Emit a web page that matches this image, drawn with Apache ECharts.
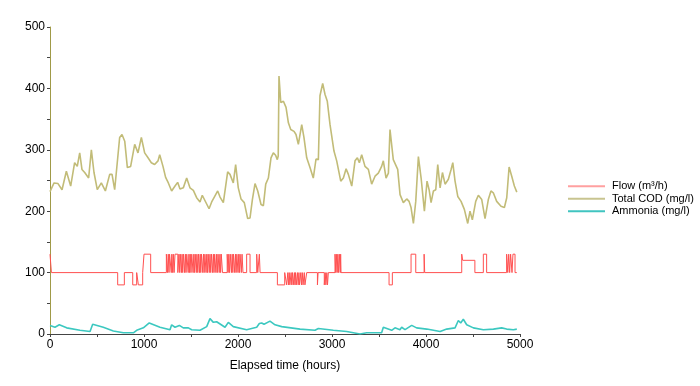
<!DOCTYPE html>
<html>
<head>
<meta charset="utf-8">
<script src="https://cdn.jsdelivr.net/npm/echarts@6/dist/echarts.min.js"></script>
<style>html,body{margin:0;padding:0;background:#fff}#c{width:700px;height:386px}</style>
</head>
<body>
<div id="c"></div>
<script>
// Total COD (mg/l): [elapsed hours, value]
var codData = [[0,232],[43,246],[85,245],[128,235],[174,265],[220,241],[262,279],[290,273],[316,295],[340,268],[369,263],[411,254],[440,300],[468,263],[503,235],[546,246],[589,233],[635,260],[660,260],[688,235],[706,235],[741,320],[766,325],[795,314],[823,271],[858,273],[901,309],[936,295],[972,320],[1007,295],[1043,287],[1078,279],[1113,276],[1149,282],[1167,292],[1202,273],[1230,255],[1259,246],[1294,233],[1330,241],[1358,247],[1383,236],[1418,238],[1454,254],[1489,238],[1525,234],[1560,222],[1596,215],[1620,226],[1656,215],[1692,204],[1720,215],[1748,223],[1784,233],[1809,223],[1844,214],[1890,264],[1915,260],[1950,246],[1975,276],[2003,238],[2032,220],[2067,214],[2103,188],[2128,189],[2153,219],[2181,245],[2210,233],[2245,211],[2270,209],[2295,244],[2323,254],[2351,287],[2376,295],[2400,291],[2418,284],[2428,290],[2436,420],[2455,377],[2483,379],[2511,369],[2536,344],[2561,333],[2596,330],[2617,325],[2642,309],[2678,341],[2702,320],[2731,287],[2766,271],[2801,254],[2830,285],[2855,284],[2872,388],[2901,408],[2926,390],[2950,379],[2979,341],[2997,339],[3021,298],[3050,282],[3093,249],[3121,254],[3150,269],[3174,260],[3192,262],[3210,241],[3245,282],[3270,287],[3291,279],[3316,292],[3351,273],[3387,268],[3422,244],[3458,257],[3493,262],[3528,273],[3546,282],[3575,254],[3600,262],[3617,333],[3652,284],[3670,284],[3699,268],[3724,227],[3759,214],[3795,220],[3820,216],[3841,206],[3866,180],[3891,216],[3919,289],[3948,254],[3983,200],[4011,249],[4033,235],[4054,214],[4079,233],[4104,235],[4125,276],[4150,238],[4175,263],[4203,244],[4238,252],[4267,268],[4285,279],[4309,249],[4338,224],[4373,216],[4408,203],[4444,180],[4468,200],[4493,186],[4529,216],[4557,226],[4593,219],[4628,188],[4663,219],[4691,233],[4716,230],[4752,216],[4798,208],[4834,206],[4859,222],[4884,272],[4912,257],[4940,241],[4966,231]];

// Ammonia (mg/l): [elapsed hours, value]
var ammoniaData = [[0,14],[53,11],[99,15],[177,10],[319,6],[426,4],[454,16],[567,11],[674,5],[780,2],[887,2],[922,6],[993,10],[1010,8],[1056,18],[1170,11],[1277,7],[1294,15],[1330,11],[1376,14],[1418,10],[1472,10],[1507,7],[1596,6],[1667,12],[1702,25],[1738,19],[1773,20],[1862,11],[1897,19],[1950,12],[2092,7],[2199,11],[2227,17],[2252,18],[2277,16],[2298,19],[2340,21],[2394,15],[2465,12],[2660,8],[2819,6],[2855,9],[3014,6],[3156,4],[3227,2],[3298,0],[3369,2],[3475,2],[3528,2],[3546,11],[3635,6],[3670,10],[3723,7],[3741,11],[3777,7],[3848,14],[3900,10],[4008,8],[4079,6],[4150,4],[4220,8],[4309,10],[4344,22],[4369,18],[4397,24],[4433,15],[4504,10],[4610,7],[4717,8],[4805,10],[4858,8],[4929,7],[4966,8]];

// Flow (m3/h): step change points [elapsed hours, new value]
var flowSteps = [[0,130],[15,100],[720,80],[791,100],[880,80],[922,100],[940,80],[986,100],[1000,130],[1071,100],
[1238,130],[1250,100],[1258,130],[1266,100],[1272,130],[1290,100],[1296,130],[1305,100],[1312,130],[1320,100],[1330,130],[1360,100],
[1372,130],[1380,100],[1386,130],[1398,100],[1405,130],[1412,100],[1420,130],[1432,100],[1440,130],[1447,100],[1455,130],[1470,100],
[1478,130],[1485,100],[1492,130],[1500,100],[1508,130],[1522,100],[1530,130],[1536,100],[1545,130],[1556,100],[1563,130],[1572,100],
[1580,130],[1590,100],[1598,130],[1604,100],[1612,130],[1625,100],[1633,130],[1640,100],[1648,130],[1660,100],[1668,130],[1675,100],
[1683,130],[1694,100],[1702,130],[1710,100],[1718,130],[1730,100],[1738,130],[1745,100],[1752,130],[1765,100],[1773,130],[1780,100],
[1788,130],[1800,100],[1808,130],[1815,100],[1822,130],[1835,100],[1885,130],[1895,100],[1902,130],[1910,100],[1918,130],[1930,100],
[1938,130],[1945,100],[1952,130],[1965,100],[1973,130],[1980,100],[1988,130],[2000,100],[2008,130],[2015,100],[2022,130],[2035,100],
[2043,130],[2053,100],[2092,130],[2128,100],[2199,130],[2210,100],[2227,130],[2235,100],
[2419,80],[2497,100],[2518,80],[2530,100],[2538,80],[2545,100],[2552,80],[2565,100],[2572,80],[2580,100],[2588,80],[2600,100],
[2606,80],[2612,100],[2620,80],[2632,100],[2640,80],[2648,100],[2655,80],[2668,100],[2676,80],[2684,100],[2692,80],[2705,100],
[2712,80],[2731,100],[2845,80],[2852,100],[2918,80],[2928,100],[2935,80],[2945,100],[2952,80],[2961,100],
[3032,130],[3040,100],[3046,130],[3055,100],[3062,130],[3070,100],[3078,130],[3088,100],[3092,130],[3096,100],
[3607,80],[3642,100],[3841,130],[3891,100],[3980,130],[3986,100],[4380,130],[4390,120],[4520,100],[4610,130],[4645,100],
[4858,130],[4870,100],[4880,130],[4890,100],[4900,130],[4915,100],[4925,130],[4947,100],[4966,100]];

var xTicks = [0,1000,2000,3000,4000,5000];
var yTicks = [0,100,200,300,400,500];

var chart = echarts.init(document.getElementById('c'), null, {renderer:'canvas'});
var font = 'Liberation Sans, Arial, sans-serif';
chart.setOption({
  animation:false,
  backgroundColor:'#fff',
  textStyle:{fontFamily:font},
  grid:{left:50,right:180,top:27,bottom:52,containLabel:false},
  legend:{
    orient:'vertical', left:563, top:175, itemWidth:37, itemHeight:2, itemGap:0,
    icon:'rect',
    textStyle:{fontFamily:font,fontSize:11,color:'#000',padding:[0,0,0,2],lineHeight:12.5},
    data:['Flow (m³/h)','Total COD (mg/l)','Ammonia (mg/l)']
  },
  xAxis:{
    type:'value', min:0, max:5000, interval:500,
    name:'Elapsed time (hours)', nameLocation:'middle', nameGap:26,
    nameTextStyle:{fontFamily:font,fontSize:12,color:'#000'},
    axisLine:{lineStyle:{color:'#444',width:1}},
    axisTick:{show:true,length:3,lineStyle:{color:'#444'}},
    axisLabel:{color:'#000',fontSize:12,fontFamily:font,margin:5,
      formatter:function(v){return xTicks.indexOf(v)>=0?String(v):'';}},
    splitLine:{show:false}
  },
  yAxis:{
    type:'value', min:0, max:500, interval:50,
    axisLine:{show:true,lineStyle:{color:'#a09a48',width:1}},
    axisTick:{show:true,length:3,lineStyle:{color:'#444'}},
    axisLabel:{color:'#000',fontSize:12,fontFamily:font,margin:5,
      formatter:function(v){return yTicks.indexOf(v)>=0?String(v):'';}},
    splitLine:{show:false}
  },
  series:[
    {name:'Flow (m³/h)', type:'line', step:'end', data:flowSteps, symbol:'none',
     lineStyle:{color:'#ff5050',width:1}, itemStyle:{color:'#ffa0a0'}, z:3},
    {name:'Total COD (mg/l)', type:'line', data:codData, symbol:'none',
     lineStyle:{color:'#c2bc78',width:1.6}, itemStyle:{color:'#c8c490'}, z:2},
    {name:'Ammonia (mg/l)', type:'line', data:ammoniaData, symbol:'none',
     lineStyle:{color:'#3cc8c0',width:1.6}, itemStyle:{color:'#40c4c0'}, z:2}
  ]
});
</script>
</body>
</html>
